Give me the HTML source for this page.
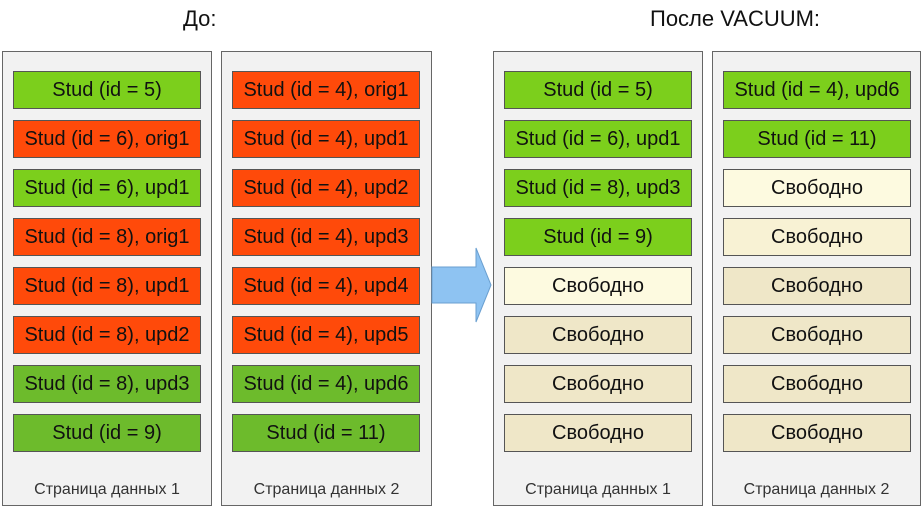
<!DOCTYPE html>
<html><head><meta charset="utf-8"><style>
body{margin:0;width:921px;height:508px;background:#fff;position:relative;overflow:hidden;font-family:"Liberation Sans",sans-serif}
.t{position:absolute;top:6px;font-size:22px;color:#111;white-space:nowrap}
.p{position:absolute;top:51px;height:455px;background:#f2f2f2;border:1px solid #666;box-sizing:border-box}
.b{position:absolute;left:10px;width:188px;height:38px;margin-top:1px;border:1px solid #555;box-sizing:border-box;font-size:20px;line-height:37px;text-align:center;color:#111;white-space:nowrap}
.g{background:#7ccf1c}.g2{background:#6dbb2c}.r{background:#ff4a0a}.f{background:#fdfae0}.e{background:#efe7c8}
.l{position:absolute;bottom:6px;left:0;right:0;text-align:center;font-size:16px;color:#333}
</style></head><body>
<div class="t" style="left:183px">До:</div>
<div class="t" style="left:650px">После VACUUM:</div>

<div class="p" style="left:2px;width:210px">
<div class="b g" style="top:18px">Stud (id = 5)</div>
<div class="b r" style="top:67px">Stud (id = 6), orig1</div>
<div class="b g" style="top:116px">Stud (id = 6), upd1</div>
<div class="b r" style="top:165px">Stud (id = 8), orig1</div>
<div class="b r" style="top:214px">Stud (id = 8), upd1</div>
<div class="b r" style="top:263px">Stud (id = 8), upd2</div>
<div class="b g2" style="top:312px">Stud (id = 8), upd3</div>
<div class="b g2" style="top:361px">Stud (id = 9)</div>
<div class="l">Страница данных 1</div></div>

<div class="p" style="left:221px;width:211px">
<div class="b r" style="top:18px">Stud (id = 4), orig1</div>
<div class="b r" style="top:67px">Stud (id = 4), upd1</div>
<div class="b r" style="top:116px">Stud (id = 4), upd2</div>
<div class="b r" style="top:165px">Stud (id = 4), upd3</div>
<div class="b r" style="top:214px">Stud (id = 4), upd4</div>
<div class="b r" style="top:263px">Stud (id = 4), upd5</div>
<div class="b g2" style="top:312px">Stud (id = 4), upd6</div>
<div class="b g2" style="top:361px">Stud (id = 11)</div>
<div class="l">Страница данных 2</div></div>

<svg style="position:absolute;left:430px;top:245px" width="64" height="80"><polygon points="2,22 46,22 46,3 61,40 46,77 46,58 2,58" fill="#8ec3f2" stroke="#6a9fd0" stroke-width="1"/></svg>

<div class="p" style="left:493px;width:210px">
<div class="b g" style="top:18px">Stud (id = 5)</div>
<div class="b g" style="top:67px">Stud (id = 6), upd1</div>
<div class="b g" style="top:116px">Stud (id = 8), upd3</div>
<div class="b g" style="top:165px">Stud (id = 9)</div>
<div class="b f" style="top:214px">Свободно</div>
<div class="b e" style="top:263px">Свободно</div>
<div class="b e" style="top:312px">Свободно</div>
<div class="b e" style="top:361px">Свободно</div>
<div class="l">Страница данных 1</div></div>

<div class="p" style="left:712px;width:209px">
<div class="b g" style="top:18px">Stud (id = 4), upd6</div>
<div class="b g" style="top:67px">Stud (id = 11)</div>
<div class="b f" style="top:116px">Свободно</div>
<div class="b f" style="top:165px;background:#f8f2d4">Свободно</div>
<div class="b e" style="top:214px">Свободно</div>
<div class="b e" style="top:263px">Свободно</div>
<div class="b e" style="top:312px">Свободно</div>
<div class="b e" style="top:361px">Свободно</div>
<div class="l">Страница данных 2</div></div>
</body></html>
